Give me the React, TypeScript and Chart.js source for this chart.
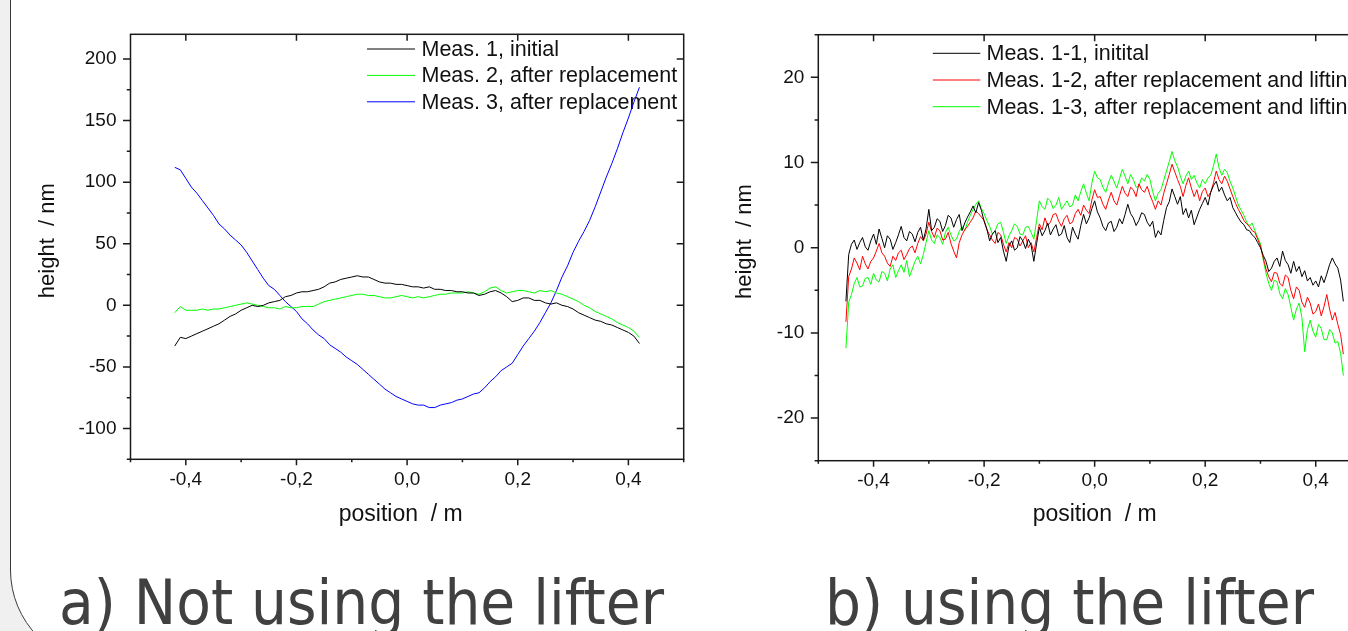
import React, { useEffect, useRef } from "react";
import { Chart, registerables } from "chart.js";

Chart.register(...registerables);

// ---------- Chart a) data ----------
const X_A = [
  -0.42, -0.41, -0.4, -0.39, -0.38, -0.37, -0.36, -0.35, -0.34, -0.33, -0.32, -0.31, -0.3, -0.29, -0.28, -0.27, -0.26,
  -0.25, -0.24, -0.23, -0.22, -0.21, -0.2, -0.19, -0.18, -0.17, -0.16, -0.15, -0.14, -0.13, -0.12, -0.11, -0.1, -0.09,
  -0.08, -0.07, -0.06, -0.05, -0.04, -0.03, -0.02, -0.01, 0.0, 0.01, 0.02, 0.03, 0.04, 0.05, 0.06, 0.07, 0.08, 0.09, 0.1,
  0.11, 0.12, 0.13, 0.14, 0.15, 0.16, 0.17, 0.18, 0.19, 0.2, 0.21, 0.22, 0.23, 0.24, 0.25, 0.26, 0.27, 0.28, 0.29, 0.3,
  0.31, 0.32, 0.33, 0.34, 0.35, 0.36, 0.37, 0.38, 0.39, 0.4, 0.41, 0.42,
];
const MEAS1_A = [
  -33, -26, -27, -25, -23, -21, -19, -17, -15, -12, -9, -7, -4, -2, 0, -1, 0, 2, 3, 4, 7, 8, 10, 11, 11, 12, 13, 15, 18,
  19, 21, 22, 23, 24, 23, 23, 21, 19, 18, 18, 17, 17, 16, 15, 15, 14, 15, 13, 13, 12, 12, 11, 11, 10, 10, 8, 9, 11, 12,
  10, 7, 3, 4, 6, 6, 4, 4, 2, 1, 2, 0, -1, -3, -6, -8, -10, -12, -13, -15, -16, -18, -20, -22, -25, -31,
];
const MEAS2_A = [
  -6, -1, -4, -4, -4, -3, -4, -3, -3, -2, -1, 0, 1, 2, 1, 0, -1, -2, -2, -3, -1, -2, -2, -1, -1, -1, 1, 3, 4, 5, 6, 7, 8,
  9, 9, 8, 8, 7, 6, 6, 7, 8, 7, 6, 7, 6, 7, 8, 9, 9, 10, 10, 10, 11, 10, 9, 11, 14, 15, 12, 10, 11, 12, 12, 11, 10, 12,
  11, 12, 10, 9, 7, 5, 3, 0, -2, -5, -7, -9, -11, -14, -16, -18, -21, -26,
];
const MEAS3_A = [
  112, 110, 103, 96, 91, 85, 79, 73, 66, 62, 57, 53, 49, 43, 36, 29, 22, 16, 13, 8, 3, -1, -5, -11, -15, -20, -24, -27,
  -32, -35, -38, -42, -45, -48, -52, -56, -60, -64, -68, -71, -74, -76, -78, -80, -81, -81, -83, -83, -81, -80, -79, -77,
  -76, -74, -72, -71, -67, -62, -58, -53, -50, -47, -40, -33, -27, -21, -14, -6, 2, 12, 23, 32, 43, 52, 60, 69, 80, 92,
  104, 115, 127, 140, 152, 165, 177,
];
const LABELS_A = ["Meas. 1, initial", "Meas. 2, after replacement", "Meas. 3, after replacement"];
const Y_TICKS_A = [-100, -50, 0, 50, 100, 150, 200];
const Y_MINOR_A = [-125, -75, -25, 25, 75, 125, 175];

// ---------- Chart b) data ----------
const X_B = [
  -0.45, -0.445, -0.44, -0.435, -0.43, -0.425, -0.42, -0.415, -0.41, -0.405,
  -0.4, -0.395, -0.39, -0.385, -0.38, -0.375, -0.37, -0.365, -0.36, -0.355,
  -0.35, -0.345, -0.34, -0.335, -0.33, -0.325, -0.32, -0.315, -0.31, -0.305,
  -0.3, -0.295, -0.29, -0.285, -0.28, -0.275, -0.27, -0.265, -0.26, -0.255,
  -0.25, -0.245, -0.24, -0.235, -0.23, -0.225, -0.22, -0.215, -0.21, -0.205,
  -0.2, -0.195, -0.19, -0.185, -0.18, -0.175, -0.17, -0.165, -0.16, -0.155,
  -0.15, -0.145, -0.14, -0.135, -0.13, -0.125, -0.12, -0.115, -0.11, -0.105,
  -0.1, -0.095, -0.09, -0.085, -0.08, -0.075, -0.07, -0.065, -0.06, -0.055,
  -0.05, -0.045, -0.04, -0.035, -0.03, -0.025, -0.02, -0.015, -0.01, -0.005,
  0.0, 0.005, 0.01, 0.015, 0.02, 0.025, 0.03, 0.035, 0.04, 0.045,
  0.05, 0.055, 0.06, 0.065, 0.07, 0.075, 0.08, 0.085, 0.09, 0.095,
  0.1, 0.105, 0.11, 0.115, 0.12, 0.125, 0.13, 0.135, 0.14, 0.145,
  0.15, 0.155, 0.16, 0.165, 0.17, 0.175, 0.18, 0.185, 0.19, 0.195,
  0.2, 0.205, 0.21, 0.215, 0.22, 0.225, 0.23, 0.235, 0.24, 0.245,
  0.25, 0.255, 0.26, 0.265, 0.27, 0.275, 0.28, 0.285, 0.29, 0.295,
  0.3, 0.305, 0.31, 0.315, 0.32, 0.325, 0.33, 0.335, 0.34, 0.345,
  0.35, 0.355, 0.36, 0.365, 0.37, 0.375, 0.38, 0.385, 0.39, 0.395,
  0.4, 0.405, 0.41, 0.415, 0.42, 0.425, 0.43, 0.435, 0.44, 0.445,
  0.45,
];
const MEAS11_B = [
  -6.3, -0.8, 0.4, 0.9, -0.2, 0.6, 1.2, 0.1, -0.3, 0.8,
  1.6, 0.4, 2.2, 1.1, 0.0, 1.4, 1.0, -0.2, 0.6, 1.5,
  2.5, 1.2, 0.8, 1.9, 1.6, 0.7, 1.8, 2.4, 0.9, 2.2,
  4.5, 2.0, 2.4, 3.4, 3.1, 1.9, 2.6, 3.8, 3.5, 2.4,
  3.3, 3.9, 2.0, 2.9, 3.6, 4.2, 4.9, 4.1, 5.3, 4.4,
  3.1, 2.2, 0.8, 1.6, 2.0, 0.6, 1.2, -0.4, -1.6, 0.2,
  0.8, -0.3, 0.0, 1.3, 0.8, -0.1, 1.0, 0.3, -1.6, 0.5,
  2.4, 1.4, 2.0, 2.9, 1.5, 2.2, 2.7, 1.4, 1.6, 2.6,
  1.2, 0.6, 2.4, 1.6, 1.0, 2.6, 3.9, 2.8, 3.5, 4.6,
  5.5, 4.2, 3.5, 2.5, 2.0, 2.9, 3.1, 1.9, 2.4, 3.4,
  2.8, 3.9, 5.1, 4.0, 3.5, 2.6, 3.2, 4.1, 3.9, 3.0,
  2.5, 3.1, 1.2, 2.0, 1.5, 3.2, 4.7, 5.4, 6.9, 6.0,
  5.1, 6.0, 3.9, 4.6, 3.5, 4.4, 2.7, 3.6, 4.5, 5.2,
  5.9, 5.0, 6.5, 7.3, 7.8, 6.6, 7.1, 6.2, 5.5, 5.9,
  4.7, 4.1, 3.5, 3.0, 2.7, 2.1, 2.0, 1.5, 1.2, 0.6,
  0.0, -0.9, -1.6, -2.8, -2.4, -1.6, -1.2, -2.2, -0.4, -1.5,
  -2.0, -3.0, -1.6, -2.8, -2.2, -3.4, -2.7, -3.9, -3.5, -4.4,
  -3.9, -4.6, -3.3, -4.1, -3.1, -2.0, -1.2, -1.9, -2.4, -3.8,
  -6.3,
];
const MEAS12_B = [
  -8.7, -3.4, -2.5, -1.2, -1.8, -2.6, -1.0, -1.9, -2.5, -1.6,
  -1.2, -0.4, 0.5, -0.6, -1.0, -1.8, -2.2, -1.0, -1.5, -0.6,
  -0.3, -1.4, -0.8, -0.1, 0.2, -0.6, 0.5, 1.3, 0.8, 1.6,
  3.0, 1.9, 1.2, 2.3, 2.0, 0.9, 1.0, 1.8, 0.5, -0.4,
  -1.2, 0.6, 1.5, 2.1, 2.5, 3.0, 3.5, 4.3, 4.0, 3.6,
  3.2, 2.1, 1.5, 0.9, 0.5, 1.8, 1.5, 0.4, -0.5, 0.6,
  0.0, 1.2, 1.0, 0.2, 0.8, 1.4, 0.0, 0.6, -0.5, 1.2,
  2.8, 2.1, 3.5, 2.6, 3.0, 3.9, 4.0, 3.1, 2.5, 3.4,
  3.8, 2.8, 3.0, 4.0, 4.5, 3.8, 5.0, 4.4, 4.0, 5.6,
  6.8, 5.9, 6.0, 5.1, 4.5, 5.6, 6.5, 5.5, 5.0, 6.1,
  7.2, 6.4, 6.0, 7.1, 6.8, 6.0, 7.5, 6.8, 6.5, 7.2,
  6.2, 5.4, 4.5, 5.5, 5.0, 6.4, 7.5, 8.6, 9.8, 8.9,
  8.0, 7.2, 6.0, 7.3, 8.2, 7.0, 6.0, 6.8, 5.5, 6.6,
  7.0, 6.0, 6.5, 7.6, 9.0, 8.0, 7.5, 8.4, 7.8, 6.9,
  6.0, 5.2, 4.5, 3.9, 3.2, 2.8, 2.5, 2.0, 1.8, 1.0,
  0.2, -1.2, -2.5, -3.4, -4.0, -2.9, -3.0, -4.2, -4.5, -3.2,
  -3.5, -5.0, -6.0, -4.6, -5.0, -6.4, -7.0, -5.8, -6.5, -7.8,
  -7.5, -6.6, -8.0, -6.9, -5.5, -7.2, -8.5, -7.6, -9.0, -10.2,
  -12.5,
];
const MEAS13_B = [
  -11.8, -6.4, -5.5, -4.2, -3.5, -4.6, -4.5, -3.6, -3.5, -4.3,
  -3.0, -3.8, -4.0, -2.8, -3.0, -3.9, -2.5, -2.0, -3.5, -2.7,
  -2.0, -2.9, -1.5, -3.4, -2.5, -1.6, -1.0, -1.9, -0.8, 0.6,
  2.0, 0.9, 0.5, 1.5, 1.2, 0.4, 1.8, 2.4, 1.5, 0.8,
  1.0, 1.9, 2.5, 2.0, 3.0, 3.8, 4.5, 5.1, 5.5, 4.6,
  4.0, 3.2, 2.5, 1.6, 2.0, 2.8, 3.0, 1.8, 0.5, 1.4,
  2.0, 2.8, 2.5, 1.6, 1.5, 2.4, 2.5, 1.8, 1.0, 3.2,
  5.5, 4.8, 4.5, 5.8, 5.5, 4.6, 5.0, 5.9, 4.5, 5.0,
  5.5, 4.8, 5.0, 6.2, 5.5, 6.6, 7.5, 6.4, 5.5, 7.6,
  9.0, 8.2, 8.0, 7.1, 6.5, 7.6, 8.5, 7.8, 7.0, 8.1,
  9.2, 8.4, 7.5, 8.6, 8.0, 7.1, 7.2, 8.2, 7.8, 8.6,
  8.0, 6.6, 5.5, 6.4, 6.8, 7.9, 9.0, 10.1, 11.3, 10.2,
  9.5, 8.4, 7.5, 8.4, 9.0, 8.0, 8.5, 7.6, 7.0, 8.0,
  7.5, 8.2, 8.5, 9.6, 11.0, 9.4, 8.5, 9.2, 8.8, 7.8,
  7.0, 6.0, 5.0, 4.4, 3.8, 3.0, 2.5, 2.9, 2.0, 1.2,
  0.5, -1.4, -3.0, -4.2, -5.0, -3.8, -4.0, -5.4, -6.0, -4.8,
  -5.5, -7.0, -8.5, -7.2, -6.5, -8.2, -12.2, -9.6, -8.5, -9.8,
  -10.5, -9.0, -9.5, -10.8, -10.8, -9.6, -10.0, -11.2, -11.0, -12.4,
  -15.0,
];
const LABELS_B = [
  "Meas. 1-1, initital",
  "Meas. 1-2, after replacement and lifting",
  "Meas. 1-3, after replacement and lifting",
];
const Y_TICKS_B = [-20, -10, 0, 10, 20];
const Y_MINOR_B = [-25, -15, -5, 5, 15, 25];

// ---------- shared axis ticks & texts ----------
const X_TICKS = [-0.4, -0.2, 0, 0.2, 0.4];
const X_MINOR = [-0.5, -0.3, -0.1, 0.1, 0.3, 0.5];
const X_TITLE = "position  / m";
const Y_TITLE = "height  / nm";
const CAPTION_A = "a) Not using the lifter";
const CAPTION_B = "b) using the lifter";

const FONT = '"Liberation Sans", Arial, Helvetica, sans-serif';

const framePlugin = {
  id: "frame",
  beforeDatasetsDraw(chart: any, _args: any, o: any) {
    const ctx = chart.ctx;
    ctx.save();
    ctx.font = `${o.legendSize}px ${FONT}`;
    ctx.textBaseline = "middle";
    ctx.textAlign = "left";
    chart.data.datasets.forEach((ds: any, i: number) => {
      const y = o.legend.y + i * o.legend.dy;
      ctx.strokeStyle = ds.borderColor;
      ctx.lineWidth = 1;
      ctx.beginPath();
      ctx.moveTo(o.legend.x1, y);
      ctx.lineTo(o.legend.x2, y);
      ctx.stroke();
      ctx.fillStyle = "#111";
      ctx.fillText(ds.label, o.legend.tx, y + 1);
    });
    ctx.restore();
  },
  afterDatasetsDraw(chart: any, _args: any, o: any) {
    const { ctx, chartArea: a, scales } = chart;
    const xs = scales.x;
    const ys = scales.y;
    ctx.save();
    ctx.strokeStyle = "#1a1a1a";
    ctx.lineWidth = 1.5;
    ctx.strokeRect(a.left, a.top, a.right - a.left, a.bottom - a.top);
    ctx.beginPath();
    const seg = (x1: number, y1: number, x2: number, y2: number) => {
      ctx.moveTo(x1, y1);
      ctx.lineTo(x2, y2);
    };
    o.xMajor.forEach((v: number) => {
      const p = xs.getPixelForValue(v);
      seg(p, a.bottom, p, a.bottom + 6);
      seg(p, a.top, p, a.top + 6.5);
    });
    o.xMinor.forEach((v: number) => {
      const p = xs.getPixelForValue(v);
      seg(p, a.bottom, p, a.bottom + 3);
    });
    o.yMajor.forEach((v: number) => {
      const p = ys.getPixelForValue(v);
      seg(a.left - 7.5, p, a.left, p);
      seg(a.right - 7, p, a.right, p);
    });
    o.yMinor.forEach((v: number) => {
      const p = ys.getPixelForValue(v);
      seg(a.left - 3.7, p, a.left, p);
    });
    ctx.stroke();
    ctx.restore();
  },
};

function buildConfig(p: any): any {
  const datasets = p.series.map((s: number[], i: number) => ({
    label: p.labels[i],
    data: p.xs.map((x: number, j: number) => ({ x, y: s[j] })),
    borderColor: p.colors[i],
    borderWidth: 1,
    pointRadius: 0,
    tension: 0,
    fill: false,
  }));
  return {
    type: "line",
    data: { datasets },
    plugins: [framePlugin],
    options: {
      animation: false,
      responsive: false,
      devicePixelRatio: 1,
      events: [],
      layout: { padding: { top: p.top, right: p.right, left: 0, bottom: 0 } },
      plugins: {
        legend: { display: false },
        tooltip: { enabled: false },
        frame: {
          legend: p.legend,
          legendSize: 21.5,
          xMajor: X_TICKS,
          xMinor: X_MINOR,
          yMajor: p.yTicks,
          yMinor: p.yMinor,
        },
      },
      scales: {
        x: {
          type: "linear",
          min: -0.5,
          max: 0.5,
          afterBuildTicks: (sc: any) => {
            sc.ticks = X_TICKS.map((v) => ({ value: v }));
          },
          afterFit: (sc: any) => {
            sc.height = p.xHeight;
          },
          grid: { display: false, drawTicks: false },
          border: { display: false },
          ticks: {
            padding: 9,
            color: "#111",
            maxRotation: 0,
            autoSkip: false,
            font: { family: FONT, size: 19 },
            callback: (v: any) => Number(v).toFixed(1).replace(".", ",").replace("-0,0", "0,0"),
          },
          title: {
            display: true,
            text: p.xTitle,
            color: "#111",
            font: { family: FONT, size: 23 },
            padding: { top: 0, bottom: 31.6 },
          },
        },
        y: {
          type: "linear",
          min: p.yMin,
          max: p.yMax,
          afterBuildTicks: (sc: any) => {
            sc.ticks = p.yTicks.map((v: number) => ({ value: v }));
          },
          afterFit: (sc: any) => {
            sc.width = p.yWidth;
          },
          grid: { display: false, drawTicks: false },
          border: { display: false },
          ticks: {
            padding: 14,
            color: "#111",
            autoSkip: false,
            font: { family: FONT, size: 19 },
            callback: (v: any) => String(v),
          },
          title: {
            display: true,
            text: "  " + Y_TITLE,
            color: "#111",
            font: { family: FONT, size: 22 },
            padding: { top: p.yTitlePad, bottom: 0 },
          },
        },
      },
    },
  };
}

const captionStyle: React.CSSProperties = {
  position: "absolute",
  top: 571,
  fontFamily: '"DejaVu Sans Condensed", "DejaVu Sans", sans-serif',
  fontStretch: "condensed",
  fontSize: 63,
  lineHeight: "63px",
  color: "#404040",
  whiteSpace: "nowrap",
};

export default function App() {
  const refA = useRef<HTMLCanvasElement>(null);
  const refB = useRef<HTMLCanvasElement>(null);

  useEffect(() => {
    const a = new Chart(
      refA.current as HTMLCanvasElement,
      buildConfig({
        xs: X_A,
        series: [MEAS1_A, MEAS2_A, MEAS3_A],
        labels: LABELS_A,
        colors: ["#000000", "#00ff00", "#0000ff"],
        yMin: -125,
        yMax: 220,
        yTicks: Y_TICKS_A,
        yMinor: Y_MINOR_A,
        top: 34.3,
        right: 16.3,
        yWidth: 130.5,
        xHeight: 100.7,
        yTitlePad: 34.3,
        xTitle: X_TITLE + "  ",
        legend: { x1: 367, x2: 415, tx: 421.5, y: 49, dy: 26.4 },
      })
    );
    const b = new Chart(
      refB.current as HTMLCanvasElement,
      buildConfig({
        xs: X_B,
        series: [MEAS11_B, MEAS12_B, MEAS13_B],
        labels: LABELS_B,
        colors: ["#000000", "#ff0000", "#00ff00"],
        yMin: -25,
        yMax: 25,
        yTicks: Y_TICKS_B,
        yMinor: Y_MINOR_B,
        top: 34.7,
        right: 29,
        yWidth: 118.3,
        xHeight: 99.3,
        yTitlePad: 31.3,
        xTitle: X_TITLE,
        legend: { x1: 232.8, x2: 280.3, tx: 286.5, y: 53.3, dy: 26.7 },
      })
    );
    return () => {
      a.destroy();
      b.destroy();
    };
  }, []);

  return (
    <div
      style={{
        position: "fixed",
        left: 0,
        top: 0,
        width: 1348,
        height: 631,
        overflow: "hidden",
        background: "#f0f0f0",
      }}
    >
      <div
        style={{
          position: "absolute",
          left: 10,
          top: -120,
          width: 1600,
          height: 785,
          boxSizing: "border-box",
          border: "1.5px solid #3a3a3a",
          borderRadius: 95,
          background: "#ffffff",
        }}
      />
      <canvas ref={refA} width={700} height={560} style={{ position: "absolute", left: 0, top: 0 }} />
      <canvas ref={refB} width={700} height={560} style={{ position: "absolute", left: 700, top: 0 }} />
      <div style={{ ...captionStyle, left: 59 }}>{CAPTION_A}</div>
      <div style={{ ...captionStyle, left: 825 }}>{CAPTION_B}</div>
    </div>
  );
}
